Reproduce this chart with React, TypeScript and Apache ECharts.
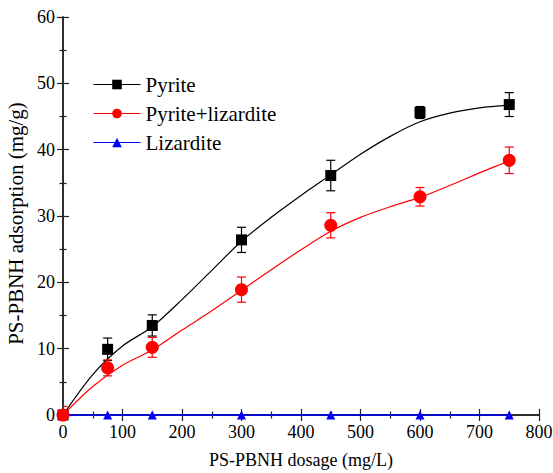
import React, { useEffect, useRef } from "react";
import * as echarts from "echarts";

const doses = [0, 75, 150, 300, 450, 600, 750];
const pyrite = [0, 9.9, 13.5, 26.4, 36.1, 45.6, 46.8];
const pyriteErr = [0, 1.7, 1.6, 1.9, 2.3, 0.9, 1.8];
const pyriteLiz = [0, 7.1, 10.2, 18.9, 28.6, 32.9, 38.4];
const pyriteLizErr = [1.3, 1.2, 1.5, 1.9, 1.9, 1.4, 2.0];
const lizardite = [0, 0, 0, 0, 0, 0, 0];

// fitted curves
const fitX = [0, 50, 100, 150, 200, 250, 300, 350, 400, 450, 500, 550, 600, 650, 700, 750];
const pyriteFit = [0, 6.1, 10.4, 13.3, 17.4, 21.8, 26.2, 29.8, 33.1, 36.2, 39.3, 42.0, 44.2, 45.5, 46.3, 46.7];
const pyriteLizFit = [0, 4.3, 7.5, 9.8, 12.8, 15.7, 18.8, 21.9, 24.9, 27.7, 29.8, 31.4, 32.8, 34.6, 36.5, 38.3];

const xTicks = [0, 100, 200, 300, 400, 500, 600, 700, 800];
const yTicks = [0, 10, 20, 30, 40, 50, 60];

const FONT = "'Liberation Serif', 'Times New Roman', serif";

function errSeries(name: string, vals: number[], errs: number[], color: string) {
  return {
    type: "custom",
    name: name + "-err",
    clip: true,
    z: 3,
    data: doses.map((d, i) => [d, vals[i] - errs[i], vals[i] + errs[i]]),
    encode: { x: 0, y: [1, 2] },
    renderItem: (params: any, api: any) => {
      const x = api.value(0);
      const lo = api.coord([x, api.value(1)]);
      const hi = api.coord([x, api.value(2)]);
      const w = 4.5;
      const st = { stroke: color, lineWidth: 1.2 };
      return {
        type: "group",
        children: [
          { type: "line", shape: { x1: lo[0], y1: lo[1], x2: hi[0], y2: hi[1] }, style: st },
          { type: "line", shape: { x1: lo[0] - w, y1: lo[1], x2: lo[0] + w, y2: lo[1] }, style: st },
          { type: "line", shape: { x1: hi[0] - w, y1: hi[1], x2: hi[0] + w, y2: hi[1] }, style: st },
        ],
      };
    },
  };
}

export default function App() {
  const ref = useRef<HTMLDivElement>(null);
  useEffect(() => {
    if (!ref.current) return;
    const chart = echarts.init(ref.current, undefined, { renderer: "svg" });
    const axisLine = { show: true, lineStyle: { color: "#222", width: 1.5 } };
    const tick = { show: true, inside: true, length: 6, lineStyle: { color: "#222", width: 1.2 } };
    const minor = { show: true, splitNumber: 2, length: 3.5, lineStyle: { color: "#222", width: 1.2 } };
    const label = { fontFamily: FONT, fontSize: 18, color: "#000", margin: 8 };
    chart.setOption({
      animation: false,
      backgroundColor: "#fff",
      grid: { left: 63, right: 14, top: 17, bottom: 58, outerBoundsMode: "none", containLabel: false },
      legend: {
        orient: "vertical",
        left: 88,
        top: 69,
        itemWidth: 47,
        itemHeight: 12,
        itemGap: 8,
        textStyle: { fontFamily: FONT, fontSize: 21, color: "#000" },
        data: [
          { name: "Pyrite", lineStyle: { color: "#000", width: 1, opacity: 1 } },
          { name: "Pyrite+lizardite", lineStyle: { color: "#ff0000", width: 1, opacity: 1 } },
          { name: "Lizardite", lineStyle: { color: "#0000ff", width: 1, opacity: 1 } },
        ],
      },
      xAxis: [
        {
          type: "value",
          min: 0,
          max: 800,
          interval: 100,
          name: "PS-PBNH dosage (mg/L)",
          nameLocation: "middle",
          nameGap: 36,
          nameTextStyle: { fontFamily: FONT, fontSize: 18, color: "#000" },
          axisLine,
          axisTick: tick,
          minorTick: { ...minor },
          axisLabel: { ...label, formatter: (v: number) => (xTicks.includes(v) ? String(v) : "") },
          splitLine: { show: false },
        },
        {
          type: "value",
          position: "top",
          min: 0,
          max: 800,
          interval: 100,
          axisLine,
          axisTick: tick,
          minorTick: { ...minor },
          axisLabel: { show: false },
          splitLine: { show: false },
        },
      ],
      yAxis: [
        {
          type: "value",
          min: 0,
          max: 60,
          interval: 10,
          name: "PS-PBNH adsorption (mg/g)",
          nameLocation: "middle",
          nameGap: 29,
          nameTextStyle: { fontFamily: FONT, fontSize: 21, color: "#000", padding: [0, 15, 0, 0] },
          axisLine,
          axisTick: tick,
          minorTick: { ...minor },
          axisLabel: { ...label, formatter: (v: number) => (yTicks.includes(v) ? String(v) : "") },
          splitLine: { show: false },
        },
        {
          type: "value",
          position: "right",
          min: 0,
          max: 60,
          interval: 10,
          axisLine,
          axisTick: tick,
          minorTick: { ...minor },
          axisLabel: { show: false },
          splitLine: { show: false },
        },
      ],
      series: [
        {
          type: "line",
          name: "pyrite-fit",
          smooth: 0.3,
          showSymbol: false,
          symbol: "none",
          z: 2,
          lineStyle: { color: "#000", width: 1.2 },
          data: fitX.map((x, i) => [x, pyriteFit[i]]),
        },
        {
          type: "line",
          name: "pyrite-liz-fit",
          smooth: 0.3,
          showSymbol: false,
          symbol: "none",
          z: 2,
          lineStyle: { color: "#ff0000", width: 1.2 },
          data: fitX.map((x, i) => [x, pyriteLizFit[i]]),
        },
        errSeries("Pyrite", pyrite, pyriteErr, "#000"),
        errSeries("Pyrite+lizardite", pyriteLiz, pyriteLizErr, "#ff0000"),
        {
          type: "line",
          name: "Lizardite",
          symbol: "triangle",
          symbolSize: 9,
          z: 4,
          clip: false,
          itemStyle: { color: "#0000ff" },
          lineStyle: { color: "#0000ff", width: 1.5 },
          data: doses.map((d, i) => [d, lizardite[i]]),
        },
        {
          type: "line",
          name: "Pyrite",
          symbol: "rect",
          symbolSize: 11,
          z: 5,
          itemStyle: { color: "#000" },
          lineStyle: { color: "#000", opacity: 0 },
          data: doses.map((d, i) => [d, pyrite[i]]),
        },
        {
          type: "line",
          name: "Pyrite+lizardite",
          symbol: "circle",
          symbolSize: 13,
          z: 5,
          itemStyle: { color: "#ff0000" },
          lineStyle: { color: "#ff0000", opacity: 0 },
          data: doses.map((d, i) => [d, pyriteLiz[i]]),
        },
      ],
    });
    return () => chart.dispose();
  }, []);
  return <div ref={ref} style={{ width: 553, height: 473, position: "absolute", left: 0, top: 0 }} />;
}
